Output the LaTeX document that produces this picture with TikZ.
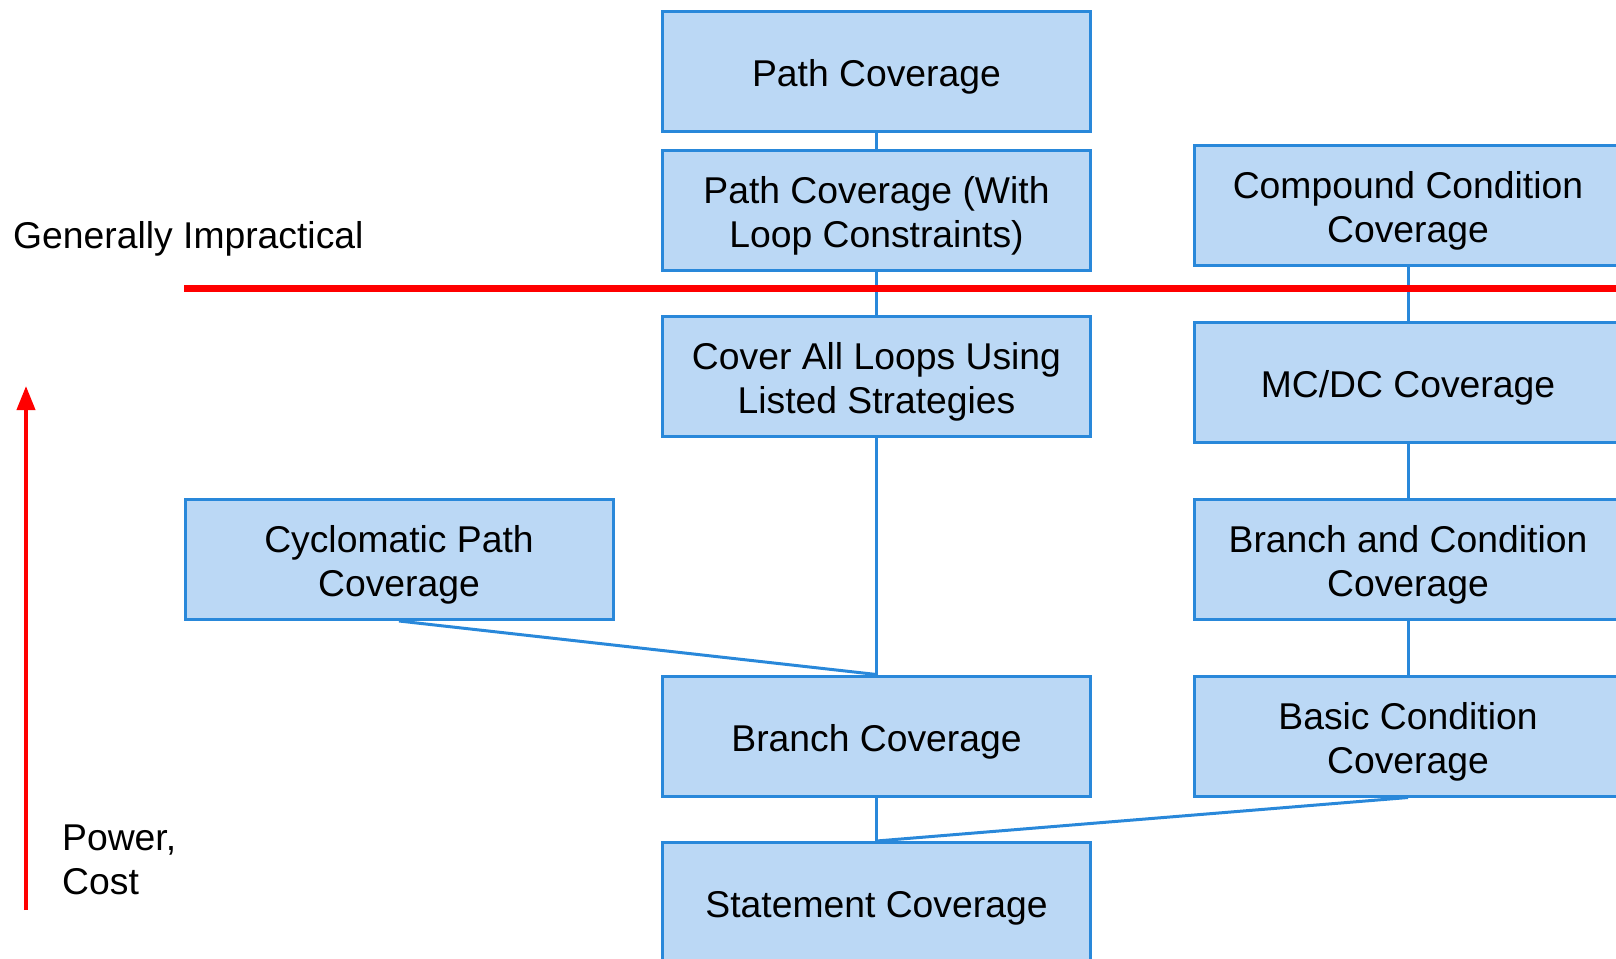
\documentclass[tikz,border=0pt]{standalone}
\usepackage{fontspec}
\setmainfont{Liberation Sans}
\usetikzlibrary{arrows.meta}
\definecolor{boxfill}{RGB}{187,216,245}
\definecolor{boxline}{RGB}{41,136,218}
\definecolor{axisred}{RGB}{255,0,0}
\begin{document}
\begin{tikzpicture}[x=1pt,y=-1pt,
  txt/.style={inner sep=0pt, font=\fontsize{37.3}{44}\selectfont},
  level/.style={draw=boxline, fill=boxfill, line width=3pt,
    minimum width=428pt, minimum height=120pt, inner sep=0pt,
    label={[txt, align=center, yshift=-5.5pt]center:#1}},
  link/.style={draw=boxline, line width=3pt},
  plain/.style={txt, align=left}]
\useasboundingbox (0,0) rectangle (1616,958);
\clip (0,0) rectangle (1616,958);

% main column: path-based criteria
\node[level={Path Coverage}] (path) at (876.5,71.5) {};
\node[level={Path Coverage (With\\Loop Constraints)}] (pathl) at (876.5,210.5) {};
\node[level={Cover All Loops Using\\Listed Strategies}] (loops) at (876.5,376) {};
\node[level={Branch Coverage}] (branch) at (876.5,736) {};
\node[level={Statement Coverage}] (stmt) at (876.5,902.5) {};

% left column
\node[level={Cyclomatic Path\\Coverage}] (cyc) at (399,559.5) {};

% right column: condition-based criteria
\node[level={Compound Condition\\Coverage}] (comp) at (1408,205) {};
\node[level={MC/DC Coverage}] (mcdc) at (1408,382) {};
\node[level={Branch and Condition\\Coverage}] (bcond) at (1408,559.5) {};
\node[level={Basic Condition\\Coverage}] (basic) at (1408,736) {};

% subsumption links
\draw[link] (path.south) -- (pathl.north);
\draw[link] (pathl.south) -- (loops.north);
\draw[link] (loops.south) -- (branch.north);
\draw[link] (cyc.south) -- (branch.north);
\draw[link] (branch.south) -- (stmt.north);
\draw[link] (comp.south) -- (mcdc.north);
\draw[link] (mcdc.south) -- (bcond.north);
\draw[link] (bcond.south) -- (basic.north);
\draw[link] (basic.south) -- (stmt.north);

% practicality threshold
\coordinate (limA) at (184,288);
\coordinate (limB) at (1616,288);
\draw[axisred, line width=7pt] (limA) -- (limB);
\node[plain, anchor=west] (impr) at (13,239) {Generally Impractical};

% power / cost axis
\coordinate (axlo) at (26,910);
\coordinate (axhi) at (26,386);
\draw[axisred, line width=4pt, -{Triangle[width=18pt,length=24pt]}] (axlo) -- (axhi);
\node[plain, anchor=west] (power) at (62,860) {Power,\\Cost};
\end{tikzpicture}
\end{document}
